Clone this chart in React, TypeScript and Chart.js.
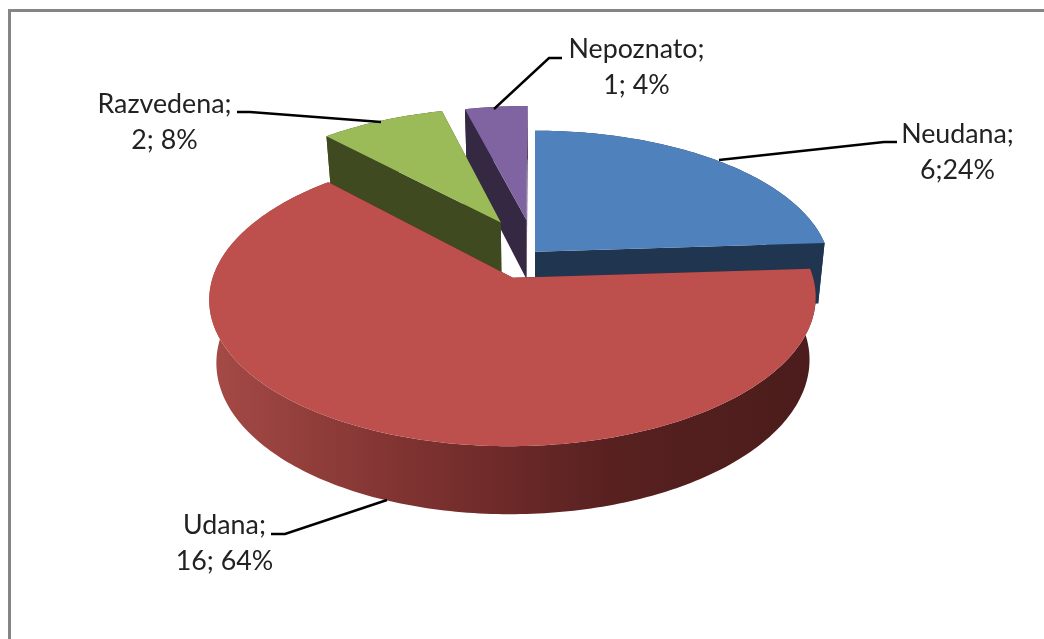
import React, { useEffect, useRef } from "react";
import { Chart, registerables } from "chart.js";

Chart.register(...registerables);

const categories = ["Neudana", "Udana", "Razvedena", "Nepoznato"];
const values = [6, 16, 2, 1];
const valueLabels = ["6;24%", "16; 64%", "2; 8%", "1; 4%"];
const explosion = [0, 20, 25, 24];
const topColors = ["#4F81BD", "#BD4F4C", "#9BBB59", "#8064A2"];
const sideColors = ["#1F3550", "#4A1C1B", "#3F4A20", "#352842"];

// 3D view of the disc: a projective map from disc units to the page
const VIEW = { cx: 535, cy: 277, rx: 300, ry: 144.5, k: 0.14, dv: -0.18, shrink: 0.978 };

const LABEL_LAYOUT = [
  { x: 957.5, y: 143, line: [[719, 160], [884, 142], [897, 142]] },
  { x: 224.5, y: 534, line: [[387, 500], [285, 534], [271, 534]] },
  { x: 164.5, y: 113, line: [[381, 122], [250, 112], [237, 112]] },
  { x: 636.5, y: 58, line: [[494, 109], [549, 58], [562, 58]] },
];

type P = [number, number];

function top(u: number, v: number): P {
  const w = 1 - VIEW.k * v;
  return [VIEW.cx + (VIEW.rx * u) / w, VIEW.cy + (VIEW.ry * v) / w];
}
function bottom(u: number, v: number): P {
  const [x, y] = top(u, v);
  return [VIEW.cx + (x - VIEW.cx) * VIEW.shrink, y + 62 + 6 * v];
}

function poly(ctx: CanvasRenderingContext2D, pts: P[], fill: string | CanvasGradient) {
  ctx.beginPath();
  pts.forEach((p, i) => (i ? ctx.lineTo(p[0], p[1]) : ctx.moveTo(p[0], p[1])));
  ctx.closePath();
  ctx.fillStyle = fill;
  ctx.fill();
}

const pie3d = {
  id: "pie3d",
  beforeDraw(chart: any) {
    const ctx = chart.ctx;
    ctx.save();
    ctx.fillStyle = "#ffffff";
    ctx.fillRect(0, 0, chart.width, chart.height);
    ctx.fillStyle = "#858585";
    ctx.fillRect(8, 9, chart.width - 8, 3);
    ctx.fillRect(8, 9, 3, chart.height - 9);
    ctx.restore();
  },
  beforeDatasetDraw(chart: any, args: any) {
    const ctx = chart.ctx;
    const arcs = chart.getDatasetMeta(args.index).data;
    const order = [3, 2, 0, 1]; // back to front
    ctx.save();
    for (const i of order) {
      const a = arcs[i];
      const { startAngle, endAngle } = a.getProps(["startAngle", "endAngle"], true);
      const d = a.options.offset / 100;
      const mid = (startAngle + endAngle) / 2;
      const au = d * Math.cos(mid);
      const av = VIEW.dv + d * Math.sin(mid);
      const n = Math.max(8, Math.ceil(((endAngle - startAngle) * 180) / Math.PI));
      const rim: P[] = [];
      for (let j = 0; j <= n; j++) {
        const t = startAngle + ((endAngle - startAngle) * j) / n;
        rim.push([au + Math.cos(t), av + Math.sin(t)]);
      }
      const topRim = rim.map((p) => top(p[0], p[1]));
      const botRim = rim.map((p) => bottom(p[0], p[1]));
      const side = sideColors[i];
      let wall: string | CanvasGradient = side;
      if (i === 1) {
        const g = ctx.createLinearGradient(210, 0, 820, 0);
        g.addColorStop(0, "#A54A47");
        g.addColorStop(0.15, "#933F3C");
        g.addColorStop(0.32, "#7F3331");
        g.addColorStop(0.46, "#702B2A");
        g.addColorStop(0.65, "#582120");
        g.addColorStop(1, "#4A1C1B");
        wall = g;
      }
      const ta = top(au, av);
      const ba = bottom(au, av);
      poly(ctx, [ta, topRim[0], botRim[0], ba], side);
      poly(ctx, [ta, topRim[n], botRim[n], ba], side);
      poly(ctx, [...topRim, ...botRim.slice().reverse()], wall);
      poly(ctx, [ta, ...topRim], topColors[i]);
    }
    ctx.restore();
    return false;
  },
  afterDraw(chart: any) {
    const ctx = chart.ctx;
    ctx.save();
    ctx.textAlign = "center";
    ctx.textBaseline = "alphabetic";
    ctx.font = '26.8px Lato, "Open Sans", sans-serif';
    ctx.fillStyle = "#222222";
    categories.forEach((c, i) => {
      const l = LABEL_LAYOUT[i];
      ctx.fillText(c + ";", l.x, l.y);
      ctx.fillText(valueLabels[i], l.x, l.y + 36);
      ctx.beginPath();
      l.line.forEach((p, j) => (j ? ctx.lineTo(p[0], p[1]) : ctx.moveTo(p[0], p[1])));
      ctx.strokeStyle = "#000000";
      ctx.lineWidth = 2.4;
      ctx.stroke();
    });
    ctx.restore();
  },
};

export default function App() {
  const ref = useRef<HTMLCanvasElement>(null);
  useEffect(() => {
    document.body.style.margin = "0";
    const chart = new Chart(ref.current!, {
      type: "pie",
      data: {
        labels: categories,
        datasets: [{ data: values, offset: explosion, backgroundColor: topColors, borderWidth: 0 }],
      },
      options: {
        animation: false,
        responsive: false,
        devicePixelRatio: 1,
        plugins: { legend: { display: false }, tooltip: { enabled: false } },
      },
      plugins: [pie3d],
    } as any);
    return () => chart.destroy();
  }, []);
  return <canvas ref={ref} width={1044} height={639} style={{ display: "block", filter: "blur(0.45px)" }} />;
}
